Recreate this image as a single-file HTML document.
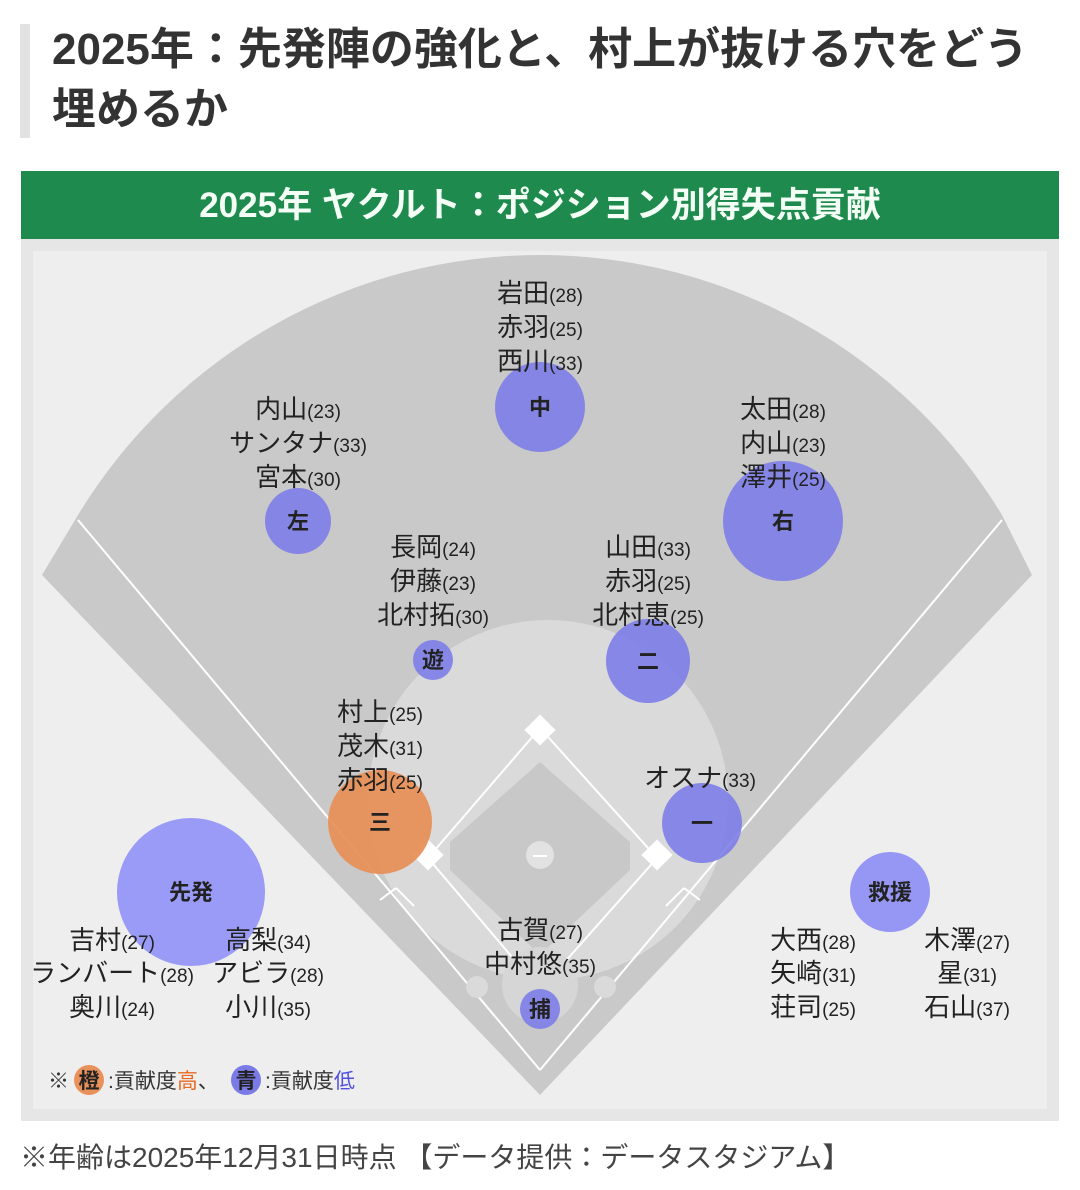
<!DOCTYPE html>
<html><head><meta charset="utf-8"><style>
body{margin:0;width:1080px;height:1190px;background:#fff;font-family:"Liberation Sans","Noto Sans CJK JP",sans-serif;overflow:hidden;position:relative}
.bar{position:absolute;left:20px;top:24px;width:10px;height:114px;background:#e2e2e2}
.title{position:absolute;left:52px;top:20px;font-size:44px;font-weight:bold;color:#333;line-height:60px;letter-spacing:0px;white-space:nowrap}
.hdr{position:absolute;left:21px;top:171px;width:1038px;height:68px;background:#1e8a4e;color:#f4fff6;font-size:35px;font-weight:bold;text-align:center;line-height:70px}
.note{position:absolute;left:20px;top:1136px;font-size:28px;color:#444;white-space:nowrap}
svg{position:absolute;left:0;top:0}
text{font-family:"Liberation Sans","Noto Sans CJK JP",sans-serif}
.n{font-size:26px;fill:#222;text-anchor:middle}
.a{font-size:19px}
.c{font-size:22px;font-weight:bold;fill:#222;text-anchor:middle}
</style></head><body>
<div class="bar"></div>
<div class="title">2025年：先発陣の強化と、村上が抜ける穴をどう<br>埋めるか</div>
<div class="hdr">2025年 ヤクルト：ポジション別得失点貢献</div>
<svg width="1080" height="1190">
<rect x="21" y="239" width="1038" height="882" fill="#e6e6e6"/>
<rect x="33" y="251" width="1014" height="858" fill="#eeeeee"/>
<path d="M42,575 L78,515 A540.5,540.5 0 0 1 1002,515 L1032,575 L540,1095 Z" fill="#c9c9c9"/>
<circle cx="548" cy="800" r="180" fill="#dadada"/>
<polygon points="540,718 670,855 540,1000 410,855" fill="#dadada"/>
<polygon points="540,762 630,842 630,870 540,955 450,870 450,842" fill="#c8c8c8"/>
<line x1="540" y1="1070" x2="78" y2="520" stroke="#fff" stroke-width="2"/>
<line x1="540" y1="1070" x2="1002" y2="520" stroke="#fff" stroke-width="2"/>
<polyline points="540,990 428,858 540,728 657,858 540,990" fill="none" stroke="#fff" stroke-width="2"/>
<rect x="529" y="719" width="22" height="22" fill="#fff" transform="rotate(45 540 730)"/>
<rect x="417" y="844" width="22" height="22" fill="#fff" transform="rotate(45 428 855)"/>
<rect x="646" y="844" width="22" height="22" fill="#fff" transform="rotate(45 657 855)"/>
<circle cx="540" cy="855" r="14" fill="#e2e2e2"/>
<line x1="533" y1="856" x2="547" y2="856" stroke="#fff" stroke-width="2"/>
<circle cx="540" cy="985" r="38" fill="#d6d6d6"/>
<circle cx="477" cy="987" r="11" fill="#dadada"/><circle cx="605" cy="987" r="11" fill="#dadada"/>
<path d="M396,888 l18,18 M380,900 l16,-12" stroke="#fff" stroke-width="2" fill="none"/>
<path d="M684,888 l-18,18 M700,900 l-16,-12" stroke="#fff" stroke-width="2" fill="none"/>
<g fill="#7b7be8" fill-opacity="0.88">
<circle cx="540" cy="407" r="45"/>
<circle cx="298" cy="521" r="33"/>
<circle cx="783" cy="521" r="60"/>
<circle cx="433" cy="660" r="20"/>
<circle cx="648" cy="661" r="42"/>
<circle cx="702" cy="823" r="40"/>
<circle cx="890" cy="892" r="40" fill="#8a8af5"/>
<circle cx="540" cy="1009" r="20"/>
<circle cx="191" cy="892" r="74" fill="#8e8ef8"/>
</g>
<circle cx="380" cy="822" r="52" fill="#e8915a" fill-opacity="0.95"/>
<text class="c" x="540" y="415">中</text>
<text class="c" x="298" y="529">左</text>
<text class="c" x="783" y="529">右</text>
<text class="c" x="433" y="668">遊</text>
<text class="c" x="648" y="669">二</text>
<text class="c" x="380" y="830">三</text>
<text class="c" x="702" y="831">一</text>
<text class="c" x="890" y="900">救援</text>
<text class="c" x="540" y="1017">捕</text>
<text class="c" x="191" y="900">先発</text>
<g class="n">
<text class="n" x="540" y="302">岩田<tspan class="a">(28)</tspan></text>
<text class="n" x="540" y="336">赤羽<tspan class="a">(25)</tspan></text>
<text class="n" x="540" y="370">西川<tspan class="a">(33)</tspan></text>
<text class="n" x="298" y="418">内山<tspan class="a">(23)</tspan></text>
<text class="n" x="298" y="452">サンタナ<tspan class="a">(33)</tspan></text>
<text class="n" x="298" y="486">宮本<tspan class="a">(30)</tspan></text>
<text class="n" x="783" y="418">太田<tspan class="a">(28)</tspan></text>
<text class="n" x="783" y="452">内山<tspan class="a">(23)</tspan></text>
<text class="n" x="783" y="486">澤井<tspan class="a">(25)</tspan></text>
<text class="n" x="433" y="556">長岡<tspan class="a">(24)</tspan></text>
<text class="n" x="433" y="590">伊藤<tspan class="a">(23)</tspan></text>
<text class="n" x="433" y="624">北村拓<tspan class="a">(30)</tspan></text>
<text class="n" x="648" y="556">山田<tspan class="a">(33)</tspan></text>
<text class="n" x="648" y="590">赤羽<tspan class="a">(25)</tspan></text>
<text class="n" x="648" y="624">北村恵<tspan class="a">(25)</tspan></text>
<text class="n" x="380" y="721">村上<tspan class="a">(25)</tspan></text>
<text class="n" x="380" y="755">茂木<tspan class="a">(31)</tspan></text>
<text class="n" x="380" y="789">赤羽<tspan class="a">(25)</tspan></text>
<text class="n" x="700" y="787">オスナ<tspan class="a">(33)</tspan></text>
<text class="n" x="540" y="939">古賀<tspan class="a">(27)</tspan></text>
<text class="n" x="540" y="973">中村悠<tspan class="a">(35)</tspan></text>
<text class="n" x="112" y="949">吉村<tspan class="a">(27)</tspan></text>
<text class="n" x="112" y="982">ランバート<tspan class="a">(28)</tspan></text>
<text class="n" x="112" y="1016">奥川<tspan class="a">(24)</tspan></text>
<text class="n" x="268" y="949">高梨<tspan class="a">(34)</tspan></text>
<text class="n" x="268" y="982">アビラ<tspan class="a">(28)</tspan></text>
<text class="n" x="268" y="1016">小川<tspan class="a">(35)</tspan></text>
<text class="n" x="813" y="949">大西<tspan class="a">(28)</tspan></text>
<text class="n" x="813" y="982">矢崎<tspan class="a">(31)</tspan></text>
<text class="n" x="813" y="1016">荘司<tspan class="a">(25)</tspan></text>
<text class="n" x="967" y="949">木澤<tspan class="a">(27)</tspan></text>
<text class="n" x="967" y="982">星<tspan class="a">(31)</tspan></text>
<text class="n" x="967" y="1016">石山<tspan class="a">(37)</tspan></text>
</g>
<circle cx="89" cy="1080" r="15" fill="#e8915a"/>
<circle cx="246" cy="1080" r="15" fill="#7b7be8"/>
<text x="48" y="1088" font-size="21" fill="#333">※</text>
<text x="89" y="1088" font-size="21" font-weight="bold" fill="#222" text-anchor="middle">橙</text>
<text x="108" y="1088" font-size="21" fill="#333">:貢献度<tspan fill="#e86a20">高</tspan>、</text>
<text x="246" y="1088" font-size="21" font-weight="bold" fill="#222" text-anchor="middle">青</text>
<text x="265" y="1088" font-size="21" fill="#333">:貢献度<tspan fill="#5050e0">低</tspan></text>
</svg>
<div class="note">※年齢は2025年12月31日時点 【データ提供：データスタジアム】</div>
</body></html>
